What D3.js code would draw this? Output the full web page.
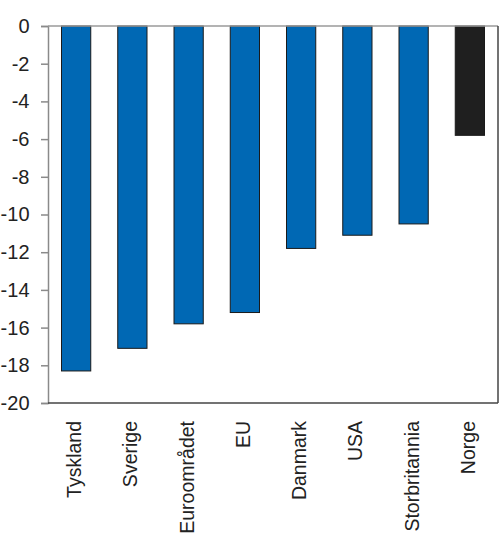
<!DOCTYPE html>
<html>
<head>
<meta charset="utf-8">
<script src="https://cdn.jsdelivr.net/npm/d3@7"></script>
<style>
  body { margin: 0; background: #fff; }
  svg { display: block; font-family: "Liberation Sans", Arial, sans-serif; }
</style>
</head>
<body>
<div id="chart-container"></div>
<script>
var countries = ["Tyskland", "Sverige", "Euroområdet", "EU", "Danmark", "USA", "Storbritannia", "Norge"];
var values = [-18.3, -17.1, -15.8, -15.2, -11.8, -11.1, -10.5, -5.8];
var yTicks = [0, -2, -4, -6, -8, -10, -12, -14, -16, -18, -20];

var chartWidth = 500;
var chartHeight = 554;
var plotLeft = 48, plotRight = 498, plotTop = 26, plotBottom = 403;

var svg = d3.select('#chart-container')
            .append('svg')
            .attr('width', chartWidth)
            .attr('height', chartHeight);

var x = d3.scaleBand()
          .domain(countries)
          .range([plotLeft, plotRight])
          .paddingInner(0.48)
          .paddingOuter(0.24);

var y = d3.scaleLinear()
          .domain([0, -20])
          .range([plotTop, plotBottom]);

// bars
svg.selectAll('rect.bar')
   .data(countries)
   .enter()
   .append('rect')
     .attr('class', 'bar')
     .attr('x', function(d) { return x(d); })
     .attr('y', y(0))
     .attr('width', x.bandwidth())
     .attr('height', function(d, i) { return y(values[i]) - y(0); })
     .attr('fill', function(d) { return d === 'Norge' ? '#1f1f1f' : '#0068b4'; })
     .attr('stroke', '#1a1a1a')
     .attr('stroke-width', 1);

// y axis
var yAxis = svg.append('g')
   .attr('transform', 'translate(' + plotLeft + ',0)')
   .call(d3.axisLeft(y).tickValues(yTicks).tickSize(7).tickPadding(11.5));
yAxis.select('.domain').attr('stroke', '#8a8a8a').attr('stroke-width', 1.5);
yAxis.selectAll('.tick line').attr('stroke', '#8a8a8a').attr('stroke-width', 1.5);
yAxis.selectAll('.tick text')
     .attr('font-size', 20)
     .attr('font-family', '"Liberation Sans", Arial, sans-serif')
     .attr('fill', '#222')
     .text(function(d) { return String(d); });

// zero line along the top
svg.append('line')
   .attr('x1', plotLeft).attr('x2', plotRight)
   .attr('y1', y(0)).attr('y2', y(0))
   .attr('stroke', '#9a9a9a').attr('stroke-width', 1.5);

// frame right and bottom
svg.append('line')
   .attr('x1', plotRight).attr('x2', plotRight)
   .attr('y1', y(0)).attr('y2', y(-20))
   .attr('stroke', '#444').attr('stroke-width', 1.5);
svg.append('line')
   .attr('x1', plotLeft).attr('x2', plotRight)
   .attr('y1', y(-20)).attr('y2', y(-20))
   .attr('stroke', '#444').attr('stroke-width', 1.5);

// x labels, rotated
svg.selectAll('text.labels')
   .data(countries)
   .enter()
   .append('text')
     .attr('class', 'labels')
     .attr('transform', function(d) {
       return 'translate(' + (x(d) + x.bandwidth() / 2 + 5) + ',' + 421 + ') rotate(-90)';
     })
     .attr('text-anchor', 'end')
     .attr('font-size', 19.5)
     .attr('fill', '#222')
     .text(function(d) { return d; });
</script>
</body>
</html>
